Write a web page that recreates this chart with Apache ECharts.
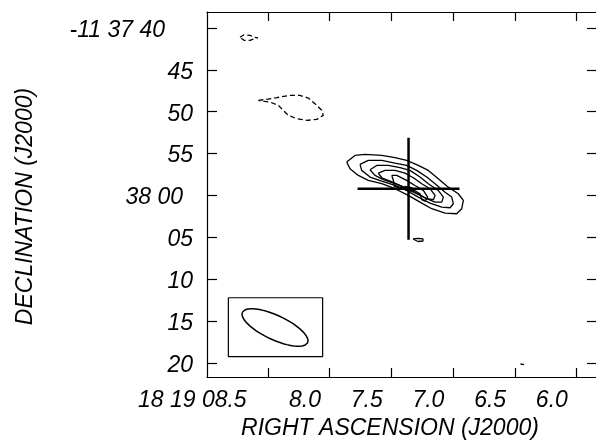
<!DOCTYPE html>
<html><head><meta charset="utf-8">
<script src="https://cdn.jsdelivr.net/npm/echarts@6/dist/echarts.min.js"></script>
<style>html,body{margin:0;padding:0;background:#fff}#c{width:596px;height:442px}</style>
</head><body><div id="c"></div>
<script>
// Right ascension (seconds of 18h19m) and declination (arcsec past -11 38 00; positive = south)
const raLabelValues = [8.5, 8.0, 7.5, 7.0, 6.5, 6.0];
const raLabelTexts = ['18 19 08.5', '8.0', '7.5', '7.0', '6.5', '6.0'];
const raTickValues = [8.3, 7.8, 7.3, 6.8, 6.3, 5.8];
const decTickValues = [-20, -15, -10, -5, 0, 5, 10, 15, 20];
const decTickTexts = ['-11 37 40', '45', '50', '55', '38 00', '05', '10', '15', '20'];

// Positive contours [ra, dec]
const contour1 = [[7.662,-3.98],[7.595,-4.78],[7.514,-4.90],[7.378,-4.78],[7.271,-4.50],[7.176,-4.18],[7.082,-3.58],[7.001,-2.99],[6.920,-2.00],[6.839,-0.99],[6.758,-0.20],[6.717,0.60],[6.730,1.59],[6.771,2.19],[6.865,2.11],[6.973,1.59],[7.068,0.80],[7.163,0.00],[7.271,-0.80],[7.378,-1.40],[7.487,-1.79],[7.568,-2.39],[7.635,-3.19]];
const contour2 = [[7.554,-3.70],[7.487,-4.18],[7.378,-4.18],[7.271,-3.86],[7.176,-3.58],[7.095,-2.99],[7.014,-2.19],[6.946,-1.40],[6.865,-0.39],[6.811,0.20],[6.798,0.99],[6.825,1.47],[6.892,1.40],[6.987,0.92],[7.082,0.20],[7.176,-0.60],[7.271,-1.19],[7.378,-1.71],[7.473,-2.19],[7.541,-2.99]];
const contour3 = [[7.473,-3.07],[7.419,-3.58],[7.325,-3.58],[7.230,-3.31],[7.149,-2.99],[7.068,-2.19],[7.001,-1.40],[6.920,-0.60],[6.879,0.20],[6.892,0.80],[6.946,0.80],[7.014,0.39],[7.095,-0.20],[7.176,-0.80],[7.271,-1.40],[7.365,-1.88],[7.433,-2.39]];
const contour4 = [[7.406,-2.66],[7.352,-2.99],[7.271,-2.99],[7.190,-2.66],[7.122,-2.11],[7.054,-1.40],[6.987,-0.80],[6.946,0.00],[6.960,0.51],[7.014,0.39],[7.082,-0.20],[7.149,-0.68],[7.230,-1.19],[7.311,-1.71],[7.378,-2.11]];
const contour5 = [[7.297,-2.39],[7.257,-2.39],[7.176,-1.79],[7.109,-1.19],[7.041,-0.60],[7.006,0.20],[7.028,0.68],[7.054,0.51],[7.068,-0.20],[7.122,-0.68],[7.176,-0.99],[7.244,-0.92],[7.276,-1.08],[7.284,-1.79]];
const contour6 = [[7.190,-1.08],[7.135,-0.92],[7.109,-0.60],[7.149,-0.51],[7.190,-0.68]];
const blobSouth = [[7.125,5.20],[7.084,5.14],[7.044,5.20],[7.044,5.44],[7.084,5.50],[7.109,5.32]];
const speckSE = [[6.254,20.13],[6.225,20.19]];
// Negative (dashed) contours
const negContourA = [[8.378,-11.35],[8.310,-11.47],[8.229,-11.67],[8.122,-11.95],[8.041,-11.95],[7.973,-11.62],[7.919,-10.96],[7.865,-10.16],[7.852,-9.56],[7.905,-9.08],[7.986,-8.96],[8.067,-9.16],[8.135,-9.56],[8.176,-10.16],[8.216,-10.75],[8.284,-11.15],[8.351,-11.27]];
const negContourB = [[8.527,-18.88],[8.494,-19.18],[8.446,-19.12],[8.413,-18.88],[8.381,-18.82],[8.413,-18.70],[8.446,-18.52],[8.494,-18.52]];
// Cross marker: position and half-sizes
const crossRA = 7.161, crossDec = -0.80, crossHalfRA = 0.413, crossHalfDec = 6.1;
// Beam: centre, major/minor FWHM (arcsec), PA (deg); box corners
const beamRA = 8.243, beamDec = 15.77, beamMaj = 8.6, beamMin = 2.9, beamPA = 65;
const beamBoxRA = [8.621, 7.857], beamBoxDec = [12.22, 19.24];
const raSecToArcsec = 14.74;

function closeRing(a) { return a.concat([a[0]]); }

const ellipse = [];
{
  const A = beamMaj / 2, B = beamMin / 2, p = beamPA * Math.PI / 180;
  for (let t = 0; t <= 360; t += 5) {
    const r = t * Math.PI / 180;
    const E = A * Math.cos(r) * Math.sin(p) + B * Math.sin(r) * Math.cos(p);
    const N = A * Math.cos(r) * Math.cos(p) - B * Math.sin(r) * Math.sin(p);
    ellipse.push([beamRA + E / raSecToArcsec, beamDec - N]);
  }
}
const box = [[beamBoxRA[0], beamBoxDec[0]], [beamBoxRA[1], beamBoxDec[0]], [beamBoxRA[1], beamBoxDec[1]], [beamBoxRA[0], beamBoxDec[1]], [beamBoxRA[0], beamBoxDec[0]]];

const FONT = "'Liberation Sans', Arial, sans-serif";
const baseText = { fontFamily: FONT, fontStyle: 'italic', fontSize: 23, color: '#000' };

function lineSeries(data, width, dashed) {
  return {
    type: 'line', data: data, showSymbol: false, symbol: 'none', smooth: false,
    lineStyle: { color: '#000', width: width, type: dashed ? [5, 3] : 'solid' },
    silent: true, animation: false, clip: true
  };
}

const chart = echarts.init(document.getElementById('c'), null, { renderer: 'canvas' });
const axisLineStyle = { show: true, onZero: false, lineStyle: { color: '#000', width: 1.2 } };
const xCommon = { type: 'value', inverse: true, min: 5.634, max: 8.794, splitLine: { show: false }, axisLine: axisLineStyle };
const yCommon = { type: 'value', inverse: true, min: -21.9, max: 21.68, splitLine: { show: false }, axisLine: axisLineStyle };

chart.setOption({
  backgroundColor: '#fff',
  animation: false,
  grid: { left: 207, top: 12, width: 390, height: 365, containLabel: false, outerBoundsMode: 'none' },
  xAxis: [
    Object.assign({}, xCommon, {
      position: 'bottom',
      axisTick: { show: true, inside: true, length: 9, customValues: raTickValues, lineStyle: { color: '#000', width: 1.2 } },
      axisLabel: Object.assign({}, baseText, {
        customValues: raLabelValues, margin: 12,
        formatter: function (v) {
          const i = raLabelValues.findIndex(x => Math.abs(x - v) < 1e-6);
          const s = i >= 0 ? raLabelTexts[i] : '';
          return i === 0 ? '{f|' + s + '}' : s;
        },
        rich: { f: Object.assign({}, baseText, { padding: [0, 102, 0, 0] }) }
      }),
      name: 'RIGHT ASCENSION (J2000)', nameLocation: 'middle', nameGap: 36,
      nameTextStyle: Object.assign({}, baseText, { padding: [0, 24, 0, 0] })
    }),
    Object.assign({}, xCommon, {
      position: 'top',
      axisTick: { show: true, inside: true, length: 9, customValues: raTickValues, lineStyle: { color: '#000', width: 1.2 } },
      axisLabel: { show: false }
    })
  ],
  yAxis: [
    Object.assign({}, yCommon, {
      position: 'left',
      axisTick: { show: true, inside: true, length: 10, customValues: decTickValues, lineStyle: { color: '#000', width: 1.2 } },
      axisLabel: Object.assign({}, baseText, {
        customValues: decTickValues, margin: 14, padding: [5, 0, 0, 0],
        formatter: function (v) {
          const i = decTickValues.findIndex(x => Math.abs(x - v) < 1e-6);
          const s = i >= 0 ? decTickTexts[i] : '';
          if (i === 0) return '{c|' + s + '}';
          if (i === 4) return '{b|' + s + '}';
          return s;
        },
        rich: {
          b: Object.assign({}, baseText, { padding: [0, 10, 0, 0] }),
          c: Object.assign({}, baseText, { padding: [0, 28, 0, 0] })
        }
      }),
      name: 'DECLINATION (J2000)', nameLocation: 'middle', nameGap: 170,
      nameTextStyle: Object.assign({}, baseText, { padding: [0, 24, 0, 0] })
    }),
    Object.assign({}, yCommon, {
      position: 'right',
      axisTick: { show: true, inside: true, length: 10, customValues: decTickValues, lineStyle: { color: '#000', width: 1.2 } },
      axisLabel: { show: false }
    })
  ],
  series: [
    lineSeries(closeRing(contour1), 1.3),
    lineSeries(closeRing(contour2), 1.3),
    lineSeries(closeRing(contour3), 1.3),
    lineSeries(closeRing(contour4), 1.3),
    lineSeries(closeRing(contour5), 1.3),
    lineSeries(closeRing(contour6), 1.3),
    lineSeries(closeRing(blobSouth), 1.3),
    lineSeries(speckSE, 1.3),
    lineSeries(closeRing(negContourA), 1.3, true),
    lineSeries(closeRing(negContourB), 1.3, true),
    lineSeries([[crossRA + crossHalfRA, crossDec], [crossRA - crossHalfRA, crossDec]], 2.5),
    lineSeries([[crossRA, crossDec - crossHalfDec], [crossRA, crossDec + crossHalfDec]], 2.5),
    lineSeries(box, 1.2),
    lineSeries(ellipse, 1.5)
  ]
});
</script></body></html>
